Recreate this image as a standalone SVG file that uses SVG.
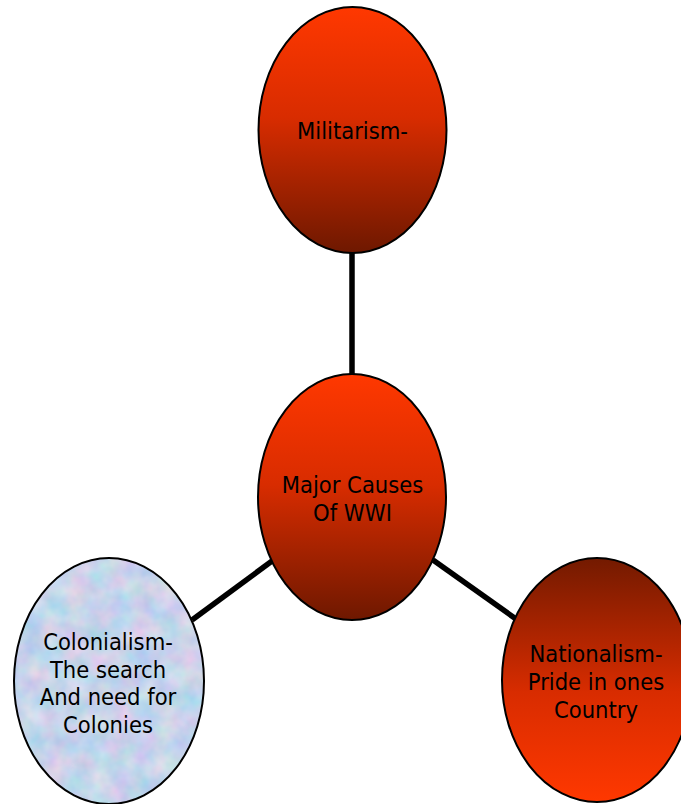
<svg xmlns="http://www.w3.org/2000/svg" width="681" height="804" viewBox="0 0 681 804">
<style>
.node{stroke:#000;stroke-width:2}
.lbl{font-family:"DejaVu Sans Condensed","DejaVu Sans","Liberation Sans",sans-serif;font-size:23.5px;fill:#000;text-anchor:middle}
.conn{stroke:#000;stroke-width:5.5;fill:none}
</style>
<defs>
<linearGradient id="redDown" x1="0" y1="0" x2="0" y2="1">
<stop offset="0" stop-color="#ff3800"/>
<stop offset="0.45" stop-color="#d82c00"/>
<stop offset="1" stop-color="#6e1800"/>
</linearGradient>
<linearGradient id="redUp" x1="0" y1="0" x2="0" y2="1">
<stop offset="0" stop-color="#731a00"/>
<stop offset="0.55" stop-color="#d82c00"/>
<stop offset="1" stop-color="#ff3800"/>
</linearGradient>
<filter id="tex" x="0" y="0" width="1" height="1" color-interpolation-filters="sRGB">
<feTurbulence type="fractalNoise" baseFrequency="0.045" numOctaves="3" seed="7" result="n"/>
<feColorMatrix in="n" type="matrix" values="0.32 0 0 0 0.62  0 0.18 0 0 0.74  0 0 0.1 0 0.87  0 0 0 0 1" result="c"/>
<feComposite in="c" in2="SourceGraphic" operator="in"/>
</filter>
</defs>
<g id="connectors">
<line class="conn" x1="352" y1="253" x2="352" y2="374"/>
<line class="conn" x1="192" y1="620" x2="272" y2="561"/>
<line class="conn" x1="433" y1="560" x2="516" y2="619"/>
</g>
<g id="militarism">
<ellipse class="node" cx="352.5" cy="130" rx="94" ry="123" fill="url(#redDown)"/>
<text class="lbl" x="352.5" y="139">Militarism-</text>
</g>
<g id="major-causes">
<ellipse class="node" cx="352" cy="497" rx="94" ry="123" fill="url(#redDown)"/>
<text class="lbl" x="352.5" y="493">Major Causes</text>
<text class="lbl" x="352.5" y="521">Of WWI</text>
</g>
<g id="colonialism">
<ellipse cx="109" cy="681" rx="95" ry="123" fill="#c8d6ef" filter="url(#tex)"/>
<ellipse class="node" cx="109" cy="681" rx="95" ry="123" fill="none"/>
<text class="lbl" x="108" y="650">Colonialism-</text>
<text class="lbl" x="108" y="678">The search</text>
<text class="lbl" x="108" y="705">And need for</text>
<text class="lbl" x="108" y="733">Colonies</text>
</g>
<g id="nationalism">
<ellipse class="node" cx="597" cy="680" rx="95" ry="122" fill="url(#redUp)"/>
<text class="lbl" x="596" y="662">Nationalism-</text>
<text class="lbl" x="596" y="690">Pride in ones</text>
<text class="lbl" x="596" y="718">Country</text>
</g>
</svg>
